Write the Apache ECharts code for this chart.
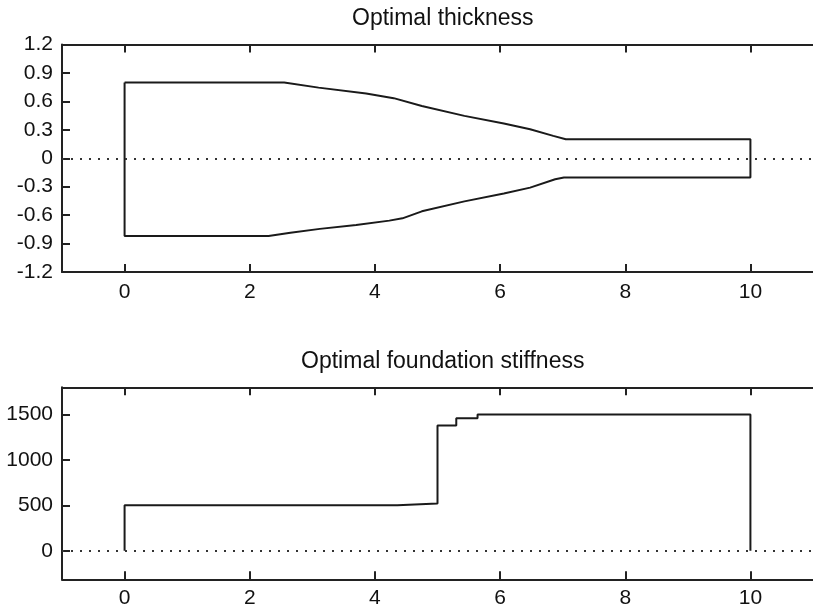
<!DOCTYPE html>
<html>
<head>
<meta charset="utf-8">
<script src="https://cdn.jsdelivr.net/npm/echarts@6/dist/echarts.min.js"></script>
<style>
  html, body { margin: 0; padding: 0; background: #fff; overflow: hidden; }
  #chart { width: 813px; height: 609px; }
</style>
</head>
<body>
<div id="chart"></div>
<script>
// Thickness profile: upper and lower surface of the beam along its length
const upperX = [0, 2.55, 3.1, 3.86, 4.3, 4.75, 5.43, 6.06, 6.48, 6.85, 7.05, 10];
const upperY = [0.80, 0.80, 0.745, 0.683, 0.634, 0.552, 0.447, 0.367, 0.306, 0.236, 0.20, 0.20];
const lowerX = [0, 2.3, 2.65, 3.12, 3.70, 4.23, 4.44, 4.75, 5.43, 6.06, 6.48, 6.88, 7.02, 10];
const lowerY = [-0.82, -0.82, -0.785, -0.745, -0.704, -0.658, -0.634, -0.56, -0.455, -0.372, -0.31, -0.222, -0.204, -0.204];

// Foundation stiffness: constant level on each interval between breakpoints
const stiffBreaks = [0, 4.36, 5.0, 5.3, 5.64, 10];
const stiffLevels = [500, 520, 1380, 1460, 1500];

// Tick values
const xTicks = [0, 2, 4, 6, 8, 10];
const thickTicks = [-1.2, -0.9, -0.6, -0.3, 0, 0.3, 0.6, 0.9, 1.2];
const stiffTicks = [0, 500, 1000, 1500];

// Closed outline of the thickness profile: upper edge, right end, lower edge back, left end
const thicknessOutline = [];
upperX.forEach((x, i) => thicknessOutline.push([x, upperY[i]]));
for (let i = lowerX.length - 1; i >= 0; i--) thicknessOutline.push([lowerX[i], lowerY[i]]);
thicknessOutline.push([upperX[0], upperY[0]]);

// Staircase for the stiffness, dropping to zero at both ends
const stiffnessSteps = [[stiffBreaks[0], 0]];
stiffLevels.forEach((v, i) => {
  stiffnessSteps.push([stiffBreaks[i], v]);
  stiffnessSteps.push([stiffBreaks[i + 1], v]);
});
stiffnessSteps.push([stiffBreaks[stiffBreaks.length - 1], 0]);

const FONT = 'Liberation Sans, Arial, sans-serif';
const INK = '#1a1a1a';
const AXIS = '#222';

function xAxisFor(gridIndex, position, showLabels, margin) {
  return {
    type: 'value', gridIndex, position, min: -1, max: 11,
    axisLine: { show: true, onZero: false, lineStyle: { color: AXIS, width: 2 } },
    axisTick: { show: true, inside: true, length: 8, customValues: xTicks,
                lineStyle: { color: AXIS, width: 2 } },
    axisLabel: { show: showLabels, customValues: xTicks, margin,
                 color: '#111', fontSize: 21, fontFamily: FONT },
    splitLine: { show: false }
  };
}

function yAxisFor(gridIndex, min, max, ticks, fmt) {
  return {
    type: 'value', gridIndex, position: 'left', min, max,
    axisLine: { show: true, onZero: false, lineStyle: { color: AXIS, width: 2 } },
    axisTick: { show: true, inside: true, length: 8, customValues: ticks,
                lineStyle: { color: AXIS, width: 2 } },
    axisLabel: { show: true, customValues: ticks, margin: 9, formatter: fmt,
                 color: '#111', fontSize: 21, fontFamily: FONT },
    splitLine: { show: false }
  };
}

const zeroLine = {
  silent: true, symbol: 'none', label: { show: false },
  lineStyle: { type: [2, 7], color: '#333', width: 2 },
  data: [{ yAxis: 0 }]
};

const chart = echarts.init(document.getElementById('chart'));
chart.setOption({
  animation: false,
  backgroundColor: '#fff',
  title: [
    { text: 'Optimal thickness', left: 442.75, top: 7, textAlign: 'center', padding: 0,
      textStyle: { fontFamily: FONT, fontSize: 23, fontWeight: 'normal', color: '#111' } },
    { text: 'Optimal foundation stiffness', left: 442.75, top: 350, textAlign: 'center', padding: 0,
      textStyle: { fontFamily: FONT, fontSize: 23, fontWeight: 'normal', color: '#111' } }
  ],
  grid: [
    { left: 62, top: 44.5, width: 761.5, height: 227.5 },
    { left: 62, top: 387.3, width: 761.5, height: 192 }
  ],
  xAxis: [
    xAxisFor(0, 'bottom', true, 10),
    xAxisFor(0, 'top', false, 8),
    xAxisFor(1, 'bottom', true, 8),
    xAxisFor(1, 'top', false, 8)
  ],
  yAxis: [
    yAxisFor(0, -1.2, 1.2, thickTicks, v => String(Math.round(v * 10) / 10)),
    yAxisFor(1, -315, 1800, stiffTicks, v => String(Math.round(v)))
  ],
  series: [
    {
      type: 'line', xAxisIndex: 0, yAxisIndex: 0, data: thicknessOutline,
      symbol: 'none', lineStyle: { color: INK, width: 2 }, markLine: zeroLine
    },
    {
      type: 'line', xAxisIndex: 2, yAxisIndex: 1, data: stiffnessSteps,
      symbol: 'none', lineStyle: { color: INK, width: 2 }, markLine: zeroLine
    }
  ]
});
</script>
</body>
</html>
